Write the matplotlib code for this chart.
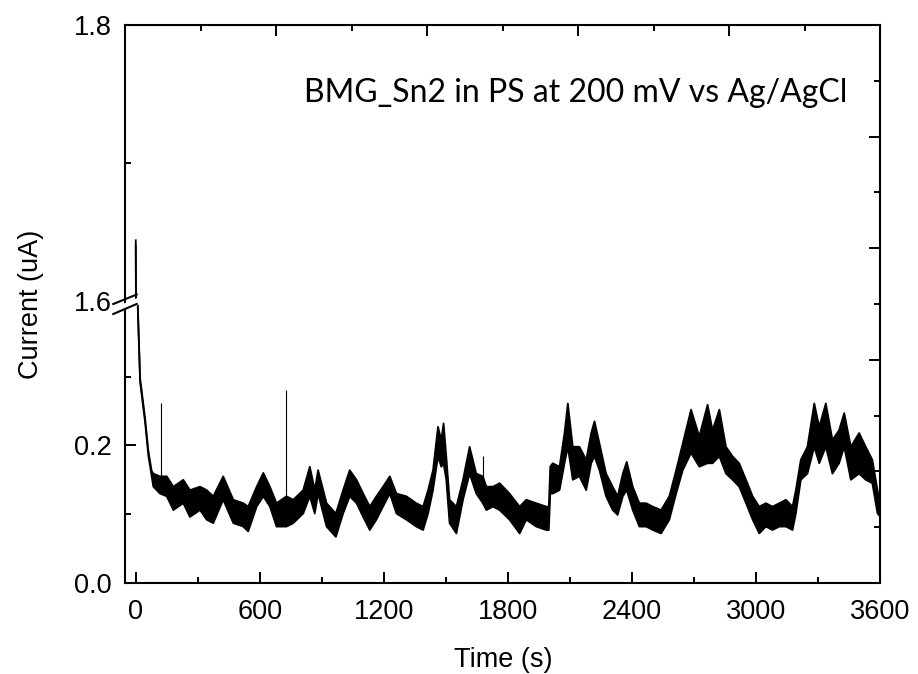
import numpy as np
import matplotlib
matplotlib.use("Agg")
import matplotlib.pyplot as plt
from matplotlib.ticker import MultipleLocator, FixedLocator
from matplotlib.patches import Polygon
from matplotlib.lines import Line2D

# Chronoamperometry trace: time (s) with upper / lower envelope of the noisy current (uA)
time_s = [0, 1, 10, 21, 45, 61, 77,
          85, 117, 150, 182, 230, 262, 311, 343, 375, 423, 472, 520, 544, 585,
          617, 649, 681, 729, 762, 810, 842, 866, 882, 923, 968, 1003, 1035, 1068,
          1100, 1132, 1164, 1196, 1229, 1261, 1309, 1357, 1390, 1414, 1438, 1462,
          1478, 1489, 1502, 1518, 1551, 1583, 1615, 1647, 1679, 1696, 1728, 1760,
          1808, 1857, 1889, 1937, 1986, 1998, 2005, 2017, 2050, 2074, 2090, 2114,
          2146, 2179, 2203, 2219, 2243, 2275, 2307, 2331, 2356, 2375, 2404, 2436,
          2469, 2501, 2541, 2581, 2614, 2646, 2686, 2726, 2766, 2790, 2823, 2855,
          2887, 2919, 2952, 2984, 3016, 3048, 3080, 3113, 3145, 3177, 3193, 3217,
          3249, 3282, 3306, 3338, 3370, 3402, 3427, 3459, 3499, 3531, 3563, 3588,
          3600]
current_hi = [1.644, 1.600, 0.402, 0.298, 0.240, 0.192, 0.163,
              0.159, 0.155, 0.155, 0.140, 0.150, 0.135, 0.140, 0.135, 0.126, 0.155,
              0.121, 0.116, 0.111, 0.140, 0.160, 0.140, 0.116, 0.126, 0.121, 0.135,
              0.169, 0.135, 0.164, 0.116, 0.101, 0.135, 0.164, 0.150, 0.130, 0.111,
              0.126, 0.140, 0.155, 0.130, 0.126, 0.116, 0.111, 0.135, 0.164, 0.227,
              0.208, 0.232, 0.184, 0.121, 0.111, 0.150, 0.198, 0.159, 0.155, 0.140,
              0.140, 0.145, 0.130, 0.111, 0.121, 0.116, 0.111, 0.111, 0.169, 0.174,
              0.169, 0.218, 0.261, 0.198, 0.198, 0.179, 0.218, 0.235, 0.203, 0.159,
              0.140, 0.126, 0.159, 0.176, 0.140, 0.116, 0.116, 0.111, 0.106, 0.126,
              0.164, 0.203, 0.252, 0.213, 0.259, 0.222, 0.252, 0.198, 0.184, 0.174,
              0.150, 0.126, 0.111, 0.116, 0.111, 0.116, 0.121, 0.111, 0.135, 0.179,
              0.198, 0.261, 0.227, 0.261, 0.208, 0.222, 0.247, 0.198, 0.218, 0.198,
              0.179, 0.135, 0.115]
current_lo = [1.640, 1.596, 0.398, 0.292, 0.234, 0.185, 0.155,
              0.140, 0.130, 0.126, 0.106, 0.116, 0.096, 0.106, 0.092, 0.087, 0.121,
              0.087, 0.082, 0.075, 0.111, 0.126, 0.111, 0.082, 0.082, 0.087, 0.101,
              0.126, 0.101, 0.130, 0.082, 0.067, 0.101, 0.126, 0.116, 0.096, 0.077,
              0.092, 0.111, 0.130, 0.101, 0.092, 0.082, 0.077, 0.101, 0.135, 0.184,
              0.169, 0.174, 0.150, 0.087, 0.072, 0.121, 0.159, 0.130, 0.116, 0.106,
              0.111, 0.106, 0.092, 0.072, 0.092, 0.082, 0.077, 0.077, 0.130, 0.130,
              0.135, 0.174, 0.198, 0.150, 0.155, 0.135, 0.174, 0.184, 0.164, 0.126,
              0.106, 0.099, 0.126, 0.135, 0.106, 0.082, 0.082, 0.077, 0.072, 0.092,
              0.130, 0.164, 0.189, 0.169, 0.174, 0.174, 0.184, 0.159, 0.150, 0.140,
              0.116, 0.092, 0.072, 0.082, 0.077, 0.082, 0.082, 0.077, 0.101, 0.150,
              0.159, 0.198, 0.174, 0.198, 0.159, 0.174, 0.198, 0.150, 0.159, 0.150,
              0.145, 0.101, 0.097]

# Isolated current spikes
spike_time = [122, 725, 1680]
spike_base = [0.135, 0.100, 0.140]
spike_top = [0.261, 0.281, 0.184]

x_ticks = [0, 600, 1200, 1800, 2400, 3000, 3600]
y_ticks_low = [0.0, 0.2]
y_ticks_high = [1.6, 1.8]

W, H = 918, 674
fig = plt.figure(figsize=(W / 100, H / 100), dpi=100)

def fx(px):
    return px / W

def fy(py):
    return 1 - py / H

LEFT, RIGHT, TOP, BOTTOM, SPLIT = 125, 880, 25, 583, 301
FONT = "Liberation Sans"
TFS = 19.5
MAJ, MIN, TW = 7.9, 4.3, 1.4

# outer frame carrying the top and right tick marks
frame = fig.add_axes([fx(LEFT), fy(BOTTOM), fx(RIGHT - LEFT), (BOTTOM - TOP) / H], zorder=0)
frame.set_xlim(0, 5)
frame.set_ylim(0, 5)
for s in frame.spines.values():
    s.set_linewidth(1.5)
frame.patch.set_visible(False)
frame.xaxis.set_ticks_position("top")
frame.yaxis.set_ticks_position("right")
frame.xaxis.set_major_locator(MultipleLocator(1))
frame.xaxis.set_minor_locator(MultipleLocator(0.5))
frame.yaxis.set_major_locator(MultipleLocator(1))
frame.yaxis.set_minor_locator(MultipleLocator(0.5))
frame.tick_params(which="both", direction="in", width=TW, labeltop=False, labelright=False,
                  labelbottom=False, labelleft=False)
frame.tick_params(which="major", length=MAJ)
frame.tick_params(which="minor", length=MIN)

ax_lo = fig.add_axes([fx(LEFT), fy(BOTTOM), fx(RIGHT - LEFT), (BOTTOM - SPLIT) / H], zorder=1)
ax_hi = fig.add_axes([fx(LEFT), fy(SPLIT), fx(RIGHT - LEFT), (SPLIT - TOP) / H], zorder=1)

for ax in (ax_lo, ax_hi):
    ax.set_frame_on(False)
    ax.patch.set_visible(False)
    ax.set_xlim(-52, 3600)
    ax.fill_between(time_s, current_lo, current_hi, color="black", lw=0)
    ax.plot(time_s, current_hi, color="black", lw=1.3)
    ax.plot(time_s, current_lo, color="black", lw=1.3)
    ax.vlines(spike_time, spike_base, spike_top, color="black", lw=0.8)
    ax.tick_params(which="both", direction="in", width=TW, labelsize=TFS, pad=9.4,
                   top=False, right=False)
    ax.tick_params(which="major", length=MAJ)
    ax.tick_params(which="minor", length=MIN)

ax_lo.set_ylim(0, (BOTTOM - SPLIT) / 688)
ax_lo.set_yticks(y_ticks_low)
ax_lo.set_yticklabels(["0.0", "0.2"])
ax_lo.yaxis.set_minor_locator(FixedLocator([0.1, 0.3]))
ax_lo.set_xticks(x_ticks)
ax_lo.set_xticklabels([str(v) for v in x_ticks])
ax_lo.xaxis.set_minor_locator(MultipleLocator(300))
ax_lo.tick_params(axis="x", pad=11.5)

ax_hi.set_ylim(1.6, 1.8)
ax_hi.set_yticks(y_ticks_high)
ax_hi.set_yticklabels(["1.6", "1.8"])
ax_hi.yaxis.set_minor_locator(FixedLocator([1.7]))
ax_hi.yaxis.get_major_ticks()[0].tick1line.set_visible(False)
ax_hi.tick_params(axis="x", which="both", bottom=False, labelbottom=False)

for ax in (ax_lo, ax_hi):
    for lab in ax.get_xticklabels() + ax.get_yticklabels():
        lab.set_fontfamily(FONT)

# axis-break marks on the left axis
gap = Polygon([(fx(126.5), fy(305.5)), (fx(137), fy(301.2)), (fx(137), fy(302.5)),
               (fx(126.5), fy(306.5))], closed=True, transform=fig.transFigure,
              facecolor="white", edgecolor="white", lw=4, zorder=5)
fig.patches.append(gap)
for (x0, y0, x1, y1) in [(113.3, 304.0, 136.7, 294.5), (113.3, 314.0, 136.7, 304.0)]:
    fig.lines.append(Line2D([fx(x0), fx(x1)], [fy(y0), fy(y1)], transform=fig.transFigure,
                            color="black", lw=1.5, zorder=6))

fig.text(fx(503), fy(660), "Time (s)", ha="center", va="center", fontsize=TFS, family=FONT)
fig.text(fx(31), fy(304), "Current (uA)", ha="center", va="center", rotation=90,
         fontsize=TFS, family=FONT)
fig.text(fx(847), fy(101.7), "BMG_Sn2 in PS at 200 mV vs Ag/AgCl", ha="right",
         va="baseline", fontsize=23, family="Lato")

fig.savefig("out.png", dpi=100)
